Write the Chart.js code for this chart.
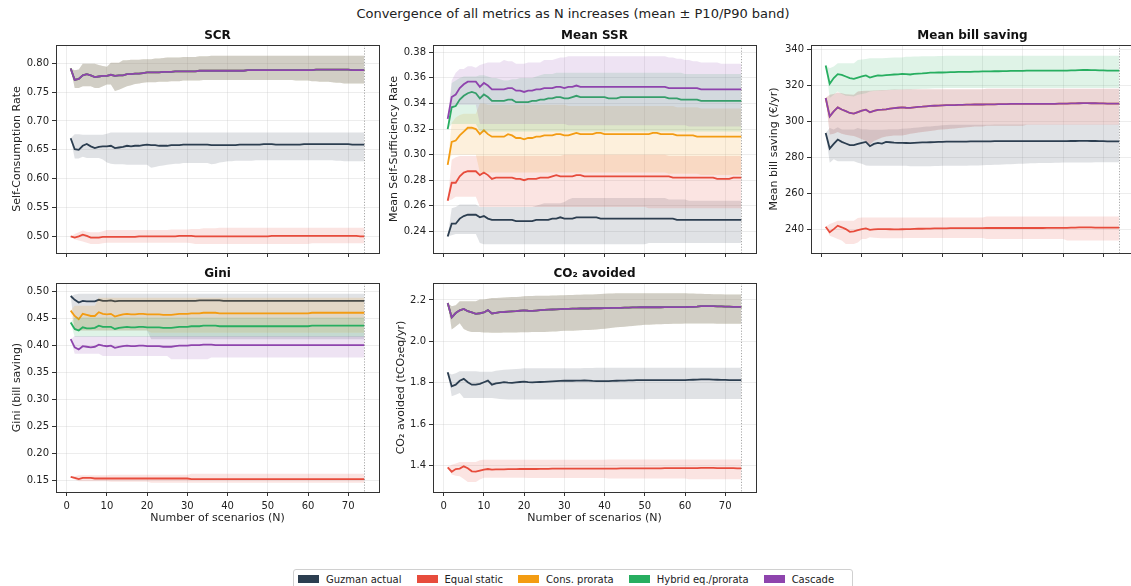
<!DOCTYPE html>
<html><head><meta charset="utf-8">
<script src="https://cdn.jsdelivr.net/npm/chart.js@4.4.1/dist/chart.umd.min.js"></script>
<style>
html,body{margin:0;padding:0;width:1131px;height:586px;overflow:hidden;background:#fff;font-family:"DejaVu Sans",sans-serif;color:#222;}
canvas{position:absolute;}
#suptitle{position:absolute;left:0;width:1146px;top:6px;text-align:center;font-size:13px;color:#222;}
#legend{position:absolute;left:293px;top:569px;width:560px;height:20px;border:1px solid #d0d0d0;border-radius:3px;box-sizing:border-box;display:flex;align-items:center;padding-left:4px;font-size:10px;color:#222;}
#legend .it{display:flex;align-items:center;margin-right:15px;}
#legend .sw{width:21px;height:8px;margin-right:7px;}
</style></head><body>
<div id="suptitle">Convergence of all metrics as N increases (mean ± P10/P90 band)</div>
<canvas id="c0"></canvas><canvas id="c1"></canvas><canvas id="c2"></canvas><canvas id="c3"></canvas><canvas id="c4"></canvas>
<div id="legend"></div>
<script>
// ---------- categories ----------
const N = [1,2,3,4,5,6,7,8,9,10,11,12,13,14,15,16,17,18,19,20,21,22,23,24,25,26,27,28,29,30,31,32,33,34,35,36,37,38,39,40,41,42,43,44,45,46,47,48,49,50,51,52,53,54,55,56,57,58,59,60,61,62,63,64,65,66,67,68,69,70,71,72,73,74];
const SERIES = ['Guzman actual','Equal static','Cons. prorata','Hybrid eq./prorata','Cascade'];

// ---------- tick labels ----------
const xTicks = [0,10,20,30,40,50,60,70];
const scrTicks = [0.50,0.55,0.60,0.65,0.70,0.75,0.80];
const ssrTicks = [0.24,0.26,0.28,0.30,0.32,0.34,0.36,0.38];
const billTicks = [240,260,280,300,320,340];
const giniTicks = [0.15,0.20,0.25,0.30,0.35,0.40,0.45,0.50];
const co2Ticks = [1.4,1.6,1.8,2.0,2.2];

// ---------- SCR ----------
const scrGuzman = [
0.670,0.651,0.650,0.657,0.660,0.656,0.653,0.655,0.656,0.656,
0.657,0.653,0.654,0.655,0.657,0.656,0.657,0.657,0.658,0.659,
0.658,0.658,0.657,0.657,0.657,0.658,0.658,0.658,0.659,0.659,
0.659,0.659,0.659,0.659,0.659,0.658,0.658,0.658,0.658,0.658,
0.658,0.658,0.659,0.659,0.659,0.659,0.659,0.659,0.660,0.660,
0.660,0.659,0.659,0.659,0.659,0.659,0.659,0.659,0.660,0.660,
0.660,0.660,0.660,0.660,0.660,0.660,0.660,0.660,0.660,0.660,
0.659,0.659,0.659,0.659];
const scrGuzmanLo = [
0.670,0.635,0.635,0.638,0.636,0.636,0.636,0.636,0.633,0.628,
0.626,0.625,0.625,0.625,0.624,0.624,0.624,0.624,0.624,0.624,
0.619,0.620,0.622,0.623,0.624,0.625,0.626,0.626,0.627,0.627,
0.627,0.627,0.627,0.627,0.627,0.625,0.626,0.628,0.629,0.630,
0.630,0.631,0.631,0.631,0.631,0.631,0.632,0.632,0.632,0.632,
0.632,0.632,0.632,0.632,0.632,0.632,0.632,0.632,0.632,0.632,
0.632,0.632,0.632,0.632,0.632,0.632,0.631,0.631,0.630,0.630,
0.630,0.630,0.630,0.630];
const scrGuzmanHi = [
0.670,0.677,0.677,0.676,0.676,0.676,0.676,0.676,0.676,0.678,
0.680,0.680,0.680,0.680,0.680,0.680,0.680,0.680,0.680,0.680,
0.680,0.680,0.680,0.680,0.680,0.680,0.680,0.680,0.680,0.680,
0.680,0.680,0.680,0.680,0.680,0.680,0.680,0.680,0.680,0.680,
0.680,0.680,0.680,0.680,0.680,0.680,0.680,0.680,0.680,0.680,
0.680,0.680,0.680,0.680,0.680,0.680,0.680,0.680,0.680,0.680,
0.680,0.680,0.680,0.680,0.680,0.680,0.680,0.680,0.680,0.680,
0.680,0.680,0.680,0.680];
const scrEqual = [
0.500,0.498,0.500,0.503,0.501,0.498,0.498,0.498,0.499,0.499,
0.499,0.499,0.499,0.499,0.499,0.499,0.499,0.500,0.500,0.500,
0.500,0.500,0.500,0.500,0.500,0.500,0.500,0.501,0.501,0.501,
0.501,0.500,0.500,0.500,0.500,0.500,0.500,0.500,0.500,0.500,
0.500,0.500,0.500,0.500,0.500,0.500,0.500,0.500,0.500,0.500,
0.501,0.501,0.501,0.501,0.501,0.501,0.501,0.501,0.501,0.501,
0.501,0.501,0.501,0.501,0.501,0.501,0.501,0.501,0.501,0.501,
0.501,0.501,0.500,0.500];
const scrEqualLo = [
0.500,0.495,0.493,0.491,0.489,0.487,0.487,0.487,0.488,0.489,
0.489,0.489,0.489,0.489,0.489,0.489,0.489,0.489,0.489,0.489,
0.489,0.489,0.489,0.489,0.489,0.489,0.489,0.489,0.489,0.489,
0.488,0.487,0.487,0.487,0.487,0.487,0.487,0.487,0.487,0.487,
0.487,0.487,0.487,0.487,0.487,0.487,0.487,0.487,0.487,0.487,
0.487,0.487,0.487,0.487,0.487,0.487,0.487,0.487,0.487,0.487,
0.488,0.488,0.488,0.488,0.488,0.488,0.488,0.488,0.488,0.488,
0.488,0.488,0.488,0.488];
const scrEqualHi = [
0.500,0.504,0.507,0.510,0.508,0.507,0.507,0.507,0.509,0.511,
0.511,0.511,0.511,0.511,0.511,0.511,0.511,0.511,0.511,0.511,
0.511,0.511,0.511,0.511,0.511,0.512,0.512,0.512,0.512,0.512,
0.513,0.513,0.513,0.514,0.514,0.514,0.514,0.515,0.515,0.515,
0.515,0.515,0.515,0.515,0.515,0.515,0.515,0.515,0.515,0.515,
0.515,0.515,0.515,0.515,0.515,0.515,0.515,0.515,0.515,0.515,
0.515,0.515,0.515,0.515,0.515,0.515,0.515,0.515,0.515,0.515,
0.515,0.515,0.515,0.515];
const scrCascade = [
0.791,0.771,0.773,0.779,0.781,0.779,0.776,0.777,0.778,0.778,
0.780,0.778,0.779,0.779,0.781,0.781,0.782,0.782,0.783,0.784,
0.784,0.784,0.784,0.785,0.785,0.785,0.786,0.786,0.786,0.786,
0.786,0.786,0.787,0.787,0.787,0.787,0.787,0.787,0.787,0.787,
0.787,0.787,0.787,0.787,0.788,0.788,0.788,0.788,0.788,0.788,
0.788,0.788,0.788,0.788,0.788,0.788,0.788,0.788,0.788,0.788,
0.788,0.789,0.789,0.789,0.789,0.789,0.789,0.789,0.789,0.789,
0.788,0.788,0.788,0.788];
const scrCascadeLo = [
0.791,0.757,0.757,0.760,0.760,0.760,0.757,0.757,0.760,0.763,
0.763,0.752,0.754,0.757,0.760,0.762,0.764,0.765,0.766,0.767,
0.767,0.767,0.768,0.768,0.768,0.769,0.769,0.769,0.770,0.770,
0.770,0.770,0.770,0.771,0.771,0.771,0.771,0.771,0.771,0.771,
0.771,0.771,0.771,0.771,0.771,0.771,0.771,0.771,0.771,0.771,
0.771,0.771,0.771,0.771,0.771,0.771,0.770,0.770,0.770,0.770,
0.769,0.769,0.768,0.768,0.768,0.767,0.766,0.766,0.765,0.765,
0.765,0.765,0.765,0.765];
const scrCascadeHi = [
0.791,0.788,0.789,0.799,0.799,0.799,0.799,0.797,0.795,0.794,
0.801,0.801,0.801,0.805,0.805,0.806,0.806,0.806,0.807,0.807,
0.807,0.808,0.808,0.809,0.810,0.810,0.810,0.810,0.811,0.811,
0.811,0.811,0.812,0.812,0.812,0.813,0.813,0.813,0.813,0.813,
0.813,0.813,0.813,0.813,0.813,0.813,0.813,0.813,0.813,0.813,
0.813,0.813,0.813,0.813,0.813,0.813,0.813,0.813,0.813,0.813,
0.813,0.813,0.813,0.813,0.813,0.813,0.813,0.813,0.813,0.813,
0.813,0.813,0.813,0.813];
// Cons. prorata and Hybrid coincide with Cascade for SCR
const scrCons = scrCascade, scrConsLo = scrCascadeLo, scrConsHi = scrCascadeHi;
const scrHybrid = scrCascade, scrHybridLo = scrCascadeLo, scrHybridHi = scrCascadeHi;

// ---------- Mean SSR ----------
const ssrGuzman = [
0.236,0.246,0.246,0.250,0.252,0.253,0.253,0.253,0.251,0.252,
0.250,0.249,0.249,0.249,0.249,0.249,0.249,0.248,0.248,0.248,
0.248,0.248,0.249,0.249,0.249,0.249,0.250,0.250,0.251,0.250,
0.250,0.250,0.251,0.251,0.251,0.251,0.251,0.251,0.250,0.250,
0.250,0.250,0.250,0.250,0.250,0.250,0.250,0.250,0.250,0.250,
0.250,0.250,0.250,0.250,0.250,0.250,0.250,0.249,0.249,0.249,
0.249,0.249,0.249,0.249,0.249,0.249,0.249,0.249,0.249,0.249,
0.249,0.249,0.249,0.249];
const ssrGuzmanLo = [
0.236,0.237,0.238,0.238,0.238,0.238,0.238,0.238,0.231,0.230,
0.230,0.230,0.230,0.230,0.230,0.230,0.230,0.230,0.230,0.230,
0.230,0.230,0.230,0.230,0.230,0.230,0.230,0.230,0.230,0.230,
0.230,0.230,0.230,0.230,0.230,0.230,0.230,0.230,0.230,0.230,
0.230,0.230,0.230,0.230,0.230,0.230,0.230,0.230,0.230,0.230,
0.231,0.231,0.231,0.231,0.231,0.231,0.231,0.231,0.231,0.231,
0.231,0.231,0.231,0.231,0.231,0.231,0.231,0.231,0.231,0.231,
0.231,0.231,0.231,0.231];
const ssrGuzmanHi = [
0.236,0.258,0.259,0.261,0.261,0.261,0.261,0.261,0.259,0.259,
0.259,0.259,0.259,0.259,0.259,0.259,0.259,0.259,0.259,0.259,
0.259,0.259,0.260,0.261,0.262,0.262,0.262,0.262,0.262,0.263,
0.265,0.266,0.266,0.266,0.266,0.266,0.266,0.266,0.266,0.266,
0.266,0.266,0.266,0.266,0.266,0.266,0.266,0.266,0.266,0.266,
0.266,0.266,0.266,0.266,0.266,0.265,0.265,0.265,0.265,0.265,
0.264,0.264,0.264,0.264,0.264,0.264,0.264,0.264,0.264,0.264,
0.264,0.264,0.264,0.264];
const ssrEqual = [
0.264,0.278,0.278,0.283,0.286,0.287,0.287,0.287,0.284,0.286,
0.284,0.281,0.282,0.282,0.282,0.282,0.282,0.281,0.281,0.280,
0.281,0.281,0.281,0.282,0.282,0.282,0.283,0.284,0.283,0.283,
0.283,0.283,0.284,0.284,0.283,0.283,0.283,0.283,0.283,0.283,
0.283,0.283,0.283,0.283,0.283,0.283,0.283,0.283,0.283,0.283,
0.283,0.283,0.283,0.283,0.283,0.283,0.282,0.282,0.282,0.282,
0.282,0.282,0.282,0.282,0.282,0.282,0.282,0.281,0.281,0.281,
0.281,0.282,0.282,0.282];
const ssrEqualLo = [
0.264,0.265,0.267,0.267,0.267,0.267,0.267,0.267,0.259,0.259,
0.259,0.259,0.259,0.259,0.259,0.259,0.259,0.259,0.259,0.259,
0.259,0.259,0.259,0.259,0.259,0.259,0.259,0.259,0.259,0.259,
0.259,0.259,0.259,0.259,0.259,0.259,0.259,0.259,0.259,0.259,
0.259,0.259,0.259,0.259,0.259,0.259,0.259,0.259,0.259,0.259,
0.258,0.258,0.258,0.258,0.258,0.258,0.258,0.258,0.258,0.258,
0.258,0.258,0.258,0.258,0.258,0.258,0.258,0.258,0.258,0.258,
0.258,0.258,0.258,0.258];
const ssrEqualHi = [
0.264,0.296,0.298,0.299,0.299,0.299,0.299,0.299,0.299,0.299,
0.299,0.299,0.299,0.299,0.299,0.299,0.299,0.299,0.299,0.299,
0.299,0.299,0.299,0.299,0.299,0.299,0.299,0.299,0.299,0.300,
0.300,0.300,0.300,0.300,0.300,0.300,0.300,0.300,0.300,0.300,
0.300,0.300,0.300,0.300,0.300,0.300,0.300,0.300,0.300,0.300,
0.300,0.300,0.300,0.300,0.300,0.299,0.299,0.299,0.299,0.299,
0.299,0.299,0.299,0.299,0.299,0.299,0.299,0.299,0.299,0.299,
0.299,0.299,0.299,0.299];
const ssrCons = [
0.292,0.310,0.311,0.315,0.318,0.321,0.321,0.320,0.316,0.319,
0.316,0.314,0.314,0.314,0.314,0.316,0.315,0.313,0.313,0.312,
0.313,0.313,0.314,0.314,0.315,0.315,0.315,0.316,0.316,0.315,
0.315,0.316,0.317,0.316,0.316,0.316,0.316,0.317,0.317,0.316,
0.316,0.316,0.316,0.316,0.316,0.316,0.316,0.316,0.316,0.316,
0.316,0.317,0.317,0.316,0.316,0.316,0.316,0.315,0.315,0.315,
0.315,0.315,0.314,0.314,0.314,0.314,0.314,0.314,0.314,0.314,
0.314,0.314,0.314,0.314];
const ssrConsLo = [
0.292,0.300,0.300,0.300,0.300,0.300,0.300,0.300,0.286,0.286,
0.286,0.286,0.286,0.286,0.286,0.286,0.286,0.286,0.286,0.286,
0.286,0.286,0.286,0.286,0.286,0.286,0.286,0.286,0.286,0.286,
0.286,0.286,0.286,0.286,0.286,0.286,0.286,0.286,0.286,0.286,
0.286,0.286,0.286,0.286,0.286,0.286,0.286,0.286,0.286,0.286,
0.286,0.286,0.286,0.286,0.286,0.285,0.285,0.285,0.285,0.285,
0.285,0.285,0.285,0.284,0.284,0.284,0.284,0.284,0.284,0.284,
0.284,0.284,0.284,0.284];
const ssrConsHi = [
0.292,0.325,0.329,0.331,0.332,0.332,0.332,0.332,0.340,0.340,
0.339,0.339,0.339,0.339,0.339,0.339,0.339,0.339,0.339,0.339,
0.339,0.339,0.339,0.339,0.339,0.339,0.339,0.339,0.339,0.339,
0.338,0.338,0.338,0.338,0.338,0.338,0.338,0.338,0.338,0.338,
0.338,0.338,0.338,0.338,0.338,0.338,0.338,0.338,0.338,0.338,
0.338,0.338,0.338,0.338,0.338,0.338,0.338,0.337,0.337,0.337,
0.337,0.337,0.337,0.336,0.336,0.336,0.336,0.336,0.336,0.336,
0.336,0.336,0.336,0.336];
const ssrHybrid = [
0.320,0.337,0.338,0.343,0.346,0.348,0.349,0.348,0.344,0.347,
0.345,0.342,0.342,0.342,0.342,0.343,0.343,0.341,0.341,0.341,
0.341,0.342,0.342,0.343,0.343,0.344,0.344,0.345,0.345,0.344,
0.344,0.345,0.346,0.345,0.345,0.345,0.345,0.345,0.345,0.345,
0.344,0.344,0.344,0.345,0.345,0.345,0.345,0.345,0.345,0.345,
0.345,0.345,0.345,0.345,0.345,0.344,0.344,0.344,0.343,0.343,
0.343,0.343,0.343,0.342,0.342,0.342,0.342,0.342,0.342,0.342,
0.342,0.342,0.342,0.342];
const ssrHybridLo = [
0.320,0.324,0.324,0.324,0.324,0.324,0.324,0.324,0.318,0.318,
0.318,0.318,0.318,0.318,0.318,0.318,0.318,0.318,0.318,0.318,
0.318,0.318,0.318,0.318,0.318,0.318,0.318,0.318,0.318,0.318,
0.318,0.318,0.318,0.318,0.318,0.318,0.318,0.318,0.318,0.318,
0.318,0.318,0.318,0.318,0.318,0.318,0.318,0.318,0.318,0.318,
0.318,0.318,0.318,0.318,0.318,0.318,0.318,0.318,0.318,0.318,
0.318,0.318,0.318,0.318,0.318,0.318,0.318,0.318,0.318,0.318,
0.318,0.318,0.318,0.318];
const ssrHybridHi = [
0.320,0.356,0.358,0.360,0.361,0.361,0.361,0.361,0.362,0.362,
0.361,0.360,0.360,0.359,0.358,0.358,0.359,0.359,0.360,0.360,
0.360,0.360,0.361,0.362,0.363,0.363,0.363,0.364,0.364,0.364,
0.364,0.364,0.364,0.364,0.364,0.364,0.364,0.364,0.364,0.364,
0.364,0.364,0.364,0.364,0.364,0.364,0.364,0.364,0.364,0.364,
0.364,0.364,0.364,0.364,0.364,0.364,0.364,0.364,0.364,0.363,
0.363,0.363,0.363,0.363,0.363,0.363,0.363,0.363,0.363,0.363,
0.363,0.363,0.363,0.363];
const ssrCascade = [
0.328,0.345,0.347,0.352,0.355,0.357,0.357,0.357,0.353,0.356,
0.354,0.351,0.351,0.351,0.351,0.352,0.352,0.350,0.350,0.349,
0.350,0.350,0.351,0.351,0.352,0.352,0.352,0.353,0.353,0.352,
0.353,0.353,0.354,0.353,0.353,0.353,0.353,0.353,0.353,0.353,
0.353,0.353,0.353,0.353,0.353,0.353,0.353,0.353,0.353,0.353,
0.353,0.353,0.353,0.353,0.353,0.352,0.352,0.352,0.352,0.352,
0.352,0.352,0.352,0.351,0.351,0.351,0.351,0.351,0.351,0.351,
0.351,0.351,0.351,0.351];
const ssrCascadeLo = [
0.328,0.336,0.339,0.339,0.339,0.339,0.339,0.339,0.324,0.324,
0.324,0.324,0.324,0.324,0.324,0.324,0.324,0.324,0.324,0.324,
0.324,0.324,0.324,0.324,0.324,0.324,0.324,0.324,0.324,0.324,
0.323,0.323,0.323,0.323,0.323,0.323,0.323,0.323,0.323,0.323,
0.323,0.323,0.323,0.323,0.323,0.323,0.323,0.323,0.323,0.323,
0.323,0.323,0.323,0.323,0.323,0.323,0.323,0.323,0.323,0.323,
0.322,0.322,0.322,0.322,0.322,0.322,0.322,0.322,0.322,0.322,
0.322,0.322,0.322,0.322];
const ssrCascadeHi = [
0.328,0.358,0.364,0.367,0.367,0.369,0.369,0.368,0.370,0.371,
0.372,0.372,0.372,0.372,0.374,0.373,0.373,0.371,0.371,0.371,
0.372,0.372,0.372,0.372,0.374,0.374,0.374,0.375,0.376,0.376,
0.377,0.377,0.377,0.377,0.377,0.377,0.377,0.377,0.377,0.377,
0.377,0.377,0.377,0.377,0.377,0.377,0.377,0.377,0.377,0.377,
0.377,0.377,0.377,0.377,0.377,0.376,0.376,0.375,0.375,0.374,
0.374,0.373,0.373,0.372,0.372,0.372,0.372,0.372,0.371,0.371,
0.371,0.371,0.371,0.371];

// ---------- Mean bill saving ----------
const billGuzman = [
293.5,284.8,287.4,289.8,288.5,287.6,286.7,286.7,287.4,288.0,
288.5,286.1,287.4,288.0,287.6,288.5,288.3,288.1,288.0,288.0,
287.9,287.8,288.0,288.1,288.2,288.2,288.3,288.4,288.5,288.5,
288.6,288.6,288.6,288.7,288.7,288.7,288.8,288.8,288.8,288.8,
288.8,288.8,288.9,288.9,288.9,288.9,288.9,288.9,288.9,288.9,
288.9,288.9,288.9,288.9,288.9,288.9,288.9,288.9,288.9,288.9,
288.9,289.0,289.0,289.1,289.1,289.1,289.0,289.0,288.9,288.9,
288.8,288.8,288.8,288.8];
const billGuzmanLo = [
293.5,276.9,278.8,277.8,277.8,277.8,277.8,277.8,276.9,276.4,
275.4,275.3,275.3,275.2,275.2,275.2,275.2,275.2,275.2,275.2,
275.2,275.0,275.0,275.0,275.0,275.0,275.0,275.1,275.1,275.2,
275.2,275.2,275.3,275.3,275.3,275.3,275.4,275.4,275.4,275.5,
275.6,275.7,275.8,275.8,275.9,276.0,276.1,276.2,276.3,276.4,
276.5,276.6,276.6,276.7,276.7,276.8,276.8,276.9,276.9,277.0,
277.0,277.0,277.1,277.1,277.1,277.1,277.1,277.2,277.2,277.2,
277.2,277.2,277.2,277.2];
const billGuzmanHi = [
293.5,296.3,295.4,296.7,295.4,295.4,295.4,295.4,296.3,295.5,
295.5,295.3,295.3,295.3,295.3,295.4,295.5,295.6,295.6,295.8,
296.0,296.1,296.4,296.5,296.8,297.0,297.1,297.4,297.5,297.8,
297.9,298.0,298.0,298.0,298.0,298.1,298.1,298.1,298.1,298.1,
298.1,298.1,298.2,298.2,298.2,298.2,298.2,298.2,298.2,298.2,
298.2,298.2,298.2,298.2,298.2,298.2,298.2,298.2,298.2,298.2,
298.2,298.2,298.2,298.2,298.2,298.2,298.2,298.2,298.2,298.2,
298.2,298.2,298.2,298.2];
const billEqual = [
241.3,238.2,240.0,241.9,241.0,240.0,238.5,238.7,239.4,240.0,
240.4,239.6,239.8,240.0,240.0,240.0,239.9,239.8,239.8,239.9,
240.0,240.0,240.1,240.2,240.2,240.3,240.3,240.4,240.4,240.4,
240.4,240.5,240.5,240.5,240.5,240.5,240.5,240.5,240.5,240.5,
240.6,240.6,240.6,240.6,240.6,240.6,240.6,240.6,240.6,240.6,
240.6,240.6,240.6,240.6,240.6,240.7,240.7,240.7,240.7,240.7,
240.7,240.8,240.8,240.9,240.9,240.9,240.9,240.8,240.8,240.8,
240.8,240.8,240.8,240.8];
const billEqualLo = [
241.3,236.3,235.4,234.5,233.6,231.7,231.7,231.7,232.6,234.5,
234.5,235.4,235.2,235.0,234.9,234.9,234.9,234.9,234.9,234.9,
235.0,235.0,235.0,235.0,235.0,235.0,235.0,235.0,235.0,235.0,
235.0,235.0,235.0,235.0,235.0,235.0,235.0,235.0,235.0,235.0,
234.5,234.5,234.5,234.5,234.5,234.5,234.5,234.5,234.5,234.5,
234.5,234.5,234.5,234.5,234.5,234.5,234.5,234.5,234.5,234.5,
233.6,233.6,233.6,233.6,233.6,233.6,233.6,233.6,233.6,233.6,
233.6,233.6,233.6,233.6];
const billEqualHi = [
241.3,242.8,243.7,244.6,244.6,244.6,244.6,244.6,246.1,246.5,
246.5,246.5,246.5,246.5,246.5,246.5,246.5,246.5,246.5,246.5,
246.5,246.5,246.5,246.5,246.5,246.5,246.5,246.5,246.5,246.5,
246.5,246.5,246.5,246.5,246.5,246.5,246.5,246.5,246.5,246.5,
247.0,247.0,247.0,247.0,247.0,247.0,247.0,247.0,247.0,247.0,
247.0,247.0,247.0,247.0,247.0,247.0,247.0,247.0,247.0,247.0,
247.0,247.0,247.0,247.0,247.0,247.0,247.0,247.0,247.0,247.0,
247.0,247.0,247.0,247.0];
const billHybrid = [
331.0,320.8,324.0,326.2,325.8,324.9,324.0,323.6,324.3,324.9,
325.5,324.3,324.9,325.5,325.4,325.6,325.8,326.0,326.1,326.3,
326.2,326.0,326.3,326.5,326.6,326.8,327.0,327.0,327.1,327.1,
327.2,327.3,327.3,327.4,327.5,327.5,327.5,327.6,327.6,327.7,
327.7,327.7,327.8,327.8,327.9,327.9,328.0,328.0,328.0,328.0,
328.1,328.1,328.1,328.1,328.1,328.1,328.1,328.1,328.2,328.2,
328.2,328.3,328.3,328.4,328.5,328.5,328.4,328.4,328.3,328.3,
328.2,328.2,328.2,328.2];
const billHybridLo = [
331.0,312.9,314.7,316.6,315.1,314.2,314.0,313.8,314.7,315.1,
315.6,316.6,316.8,317.0,317.1,317.2,317.3,317.4,317.5,317.5,
317.6,317.7,317.8,317.9,318.0,318.1,318.2,318.3,318.4,318.4,
318.5,318.5,318.5,318.5,318.5,318.5,318.5,318.5,318.5,318.5,
318.5,318.5,318.5,318.5,318.5,318.5,318.5,318.5,318.5,318.5,
318.5,318.5,318.5,318.5,318.5,318.5,318.5,318.5,318.5,318.5,
318.5,318.5,318.5,318.5,318.5,318.5,318.5,318.5,318.5,318.5,
318.5,318.5,318.5,318.5];
const billHybridHi = [
331.0,329.5,330.5,332.3,332.3,332.3,332.3,332.3,334.1,334.3,
334.6,335.0,335.0,335.0,335.0,335.2,335.3,335.4,335.5,335.5,
335.9,335.9,336.0,336.0,336.1,336.1,336.2,336.2,336.3,336.3,
336.4,336.4,336.4,336.4,336.4,336.4,336.4,336.4,336.4,336.4,
336.4,336.4,336.4,336.4,336.4,336.4,336.4,336.4,336.4,336.4,
336.4,336.4,336.4,336.4,336.4,336.4,336.4,336.4,336.4,336.4,
336.4,336.4,336.4,336.4,336.4,336.4,336.4,336.4,336.4,336.4,
336.4,336.4,336.4,336.4];
const billCascade = [
312.9,302.7,305.5,307.7,306.5,305.6,304.6,304.2,305.1,305.9,
306.4,305.0,305.8,306.3,306.4,306.6,307.0,307.3,307.5,307.7,
307.5,307.4,307.7,308.0,308.1,308.3,308.5,308.6,308.7,308.8,
308.9,309.0,309.0,309.1,309.1,309.2,309.2,309.3,309.3,309.3,
309.4,309.4,309.4,309.5,309.5,309.5,309.6,309.6,309.6,309.6,
309.7,309.7,309.7,309.7,309.7,309.7,309.7,309.7,309.8,309.8,
309.8,309.9,309.9,310.0,310.1,310.1,310.0,310.0,309.9,309.9,
309.8,309.8,309.8,309.8];
const billCascadeLo = [
312.9,292.6,293.0,294.0,293.0,292.5,292.0,291.8,291.0,290.0,
289.0,287.0,289.0,290.0,291.0,291.5,291.8,292.0,292.0,292.0,
292.5,293.0,293.3,293.7,294.0,294.3,294.6,294.9,295.2,295.4,
295.6,295.8,296.0,296.2,296.4,296.6,296.8,297.0,297.0,297.0,
297.5,297.5,297.5,297.5,297.5,297.5,297.5,297.5,297.5,297.5,
298.0,298.0,298.0,298.0,298.0,298.0,298.0,298.0,298.0,298.0,
298.0,298.0,298.0,298.0,298.0,298.0,298.0,298.0,298.0,298.0,
298.0,298.0,298.0,298.0];
const billCascadeHi = [
312.9,314.7,315.2,316.0,315.5,315.0,314.8,314.7,316.6,316.8,
317.0,317.0,317.1,317.2,317.3,317.4,317.5,317.6,317.6,317.7,
317.8,317.8,317.8,317.8,317.8,317.8,317.8,317.8,317.8,317.8,
317.8,317.8,317.8,317.8,317.8,317.8,317.8,317.8,317.8,317.8,
318.0,318.0,318.0,318.0,318.0,318.0,318.0,318.0,318.0,318.0,
318.0,318.0,318.0,318.0,318.0,318.0,318.0,318.0,318.0,318.0,
318.0,318.0,318.0,318.0,318.0,318.0,318.0,318.0,318.0,318.0,
318.0,318.0,318.0,318.0];
// Cons. prorata coincides with Cascade for bill saving
const billCons = billCascade, billConsLo = billCascadeLo, billConsHi = billCascadeHi;

// ---------- Gini ----------
const giniGuzman = [
0.492,0.485,0.480,0.483,0.482,0.482,0.482,0.485,0.483,0.483,
0.484,0.482,0.483,0.483,0.483,0.483,0.483,0.483,0.483,0.483,
0.483,0.483,0.483,0.483,0.483,0.483,0.483,0.483,0.483,0.483,
0.483,0.483,0.484,0.484,0.484,0.484,0.484,0.484,0.483,0.483,
0.483,0.483,0.483,0.483,0.483,0.483,0.483,0.483,0.483,0.483,
0.483,0.483,0.483,0.483,0.483,0.483,0.483,0.483,0.483,0.483,
0.483,0.483,0.483,0.483,0.483,0.483,0.483,0.483,0.483,0.483,
0.483,0.483,0.483,0.483];
const giniGuzmanLo = [
0.492,0.428,0.428,0.428,0.428,0.428,0.428,0.428,0.428,0.428,
0.428,0.428,0.428,0.428,0.428,0.428,0.428,0.428,0.428,0.428,
0.412,0.412,0.412,0.412,0.412,0.412,0.412,0.412,0.412,0.412,
0.412,0.412,0.412,0.412,0.412,0.412,0.412,0.412,0.412,0.412,
0.412,0.412,0.412,0.412,0.412,0.412,0.412,0.412,0.412,0.412,
0.412,0.412,0.412,0.412,0.412,0.412,0.412,0.412,0.412,0.412,
0.412,0.412,0.412,0.412,0.412,0.412,0.412,0.412,0.412,0.412,
0.412,0.412,0.412,0.412];
const giniGuzmanHi = [
0.492,0.495,0.496,0.496,0.496,0.496,0.496,0.496,0.496,0.496,
0.496,0.496,0.496,0.496,0.496,0.496,0.496,0.496,0.496,0.496,
0.496,0.496,0.496,0.496,0.496,0.496,0.496,0.496,0.496,0.496,
0.496,0.496,0.496,0.496,0.496,0.496,0.496,0.496,0.496,0.496,
0.496,0.496,0.496,0.496,0.496,0.496,0.496,0.496,0.496,0.496,
0.496,0.496,0.496,0.496,0.496,0.496,0.496,0.496,0.496,0.496,
0.496,0.496,0.496,0.496,0.496,0.496,0.496,0.496,0.496,0.496,
0.496,0.496,0.496,0.496];
const giniEqual = [
0.157,0.155,0.153,0.155,0.155,0.155,0.154,0.154,0.154,0.154,
0.154,0.154,0.154,0.154,0.154,0.154,0.154,0.154,0.154,0.154,
0.154,0.154,0.154,0.154,0.154,0.154,0.154,0.154,0.154,0.154,
0.153,0.153,0.153,0.153,0.153,0.153,0.153,0.153,0.153,0.153,
0.153,0.153,0.153,0.153,0.153,0.153,0.153,0.153,0.153,0.153,
0.153,0.153,0.153,0.153,0.153,0.153,0.153,0.153,0.153,0.153,
0.153,0.153,0.153,0.153,0.153,0.153,0.153,0.153,0.153,0.153,
0.153,0.153,0.153,0.153];
const giniEqualLo = [
0.157,0.152,0.149,0.149,0.149,0.149,0.149,0.149,0.149,0.149,
0.148,0.148,0.148,0.148,0.148,0.148,0.148,0.148,0.148,0.148,
0.146,0.146,0.146,0.146,0.146,0.146,0.146,0.146,0.146,0.146,
0.146,0.146,0.146,0.146,0.146,0.146,0.146,0.146,0.146,0.146,
0.146,0.146,0.146,0.146,0.146,0.146,0.146,0.146,0.146,0.146,
0.146,0.146,0.146,0.146,0.146,0.146,0.146,0.146,0.146,0.146,
0.146,0.146,0.146,0.146,0.146,0.146,0.146,0.146,0.146,0.146,
0.146,0.146,0.146,0.146];
const giniEqualHi = [
0.157,0.158,0.160,0.160,0.160,0.160,0.160,0.160,0.160,0.160,
0.161,0.161,0.161,0.161,0.161,0.161,0.161,0.161,0.161,0.161,
0.161,0.161,0.161,0.161,0.161,0.161,0.161,0.161,0.161,0.161,
0.163,0.163,0.163,0.163,0.163,0.163,0.163,0.163,0.163,0.163,
0.163,0.163,0.163,0.163,0.163,0.163,0.163,0.163,0.163,0.163,
0.163,0.163,0.163,0.163,0.163,0.163,0.163,0.163,0.163,0.163,
0.163,0.163,0.163,0.163,0.163,0.163,0.163,0.163,0.163,0.163,
0.163,0.163,0.163,0.163];
const giniCons = [
0.465,0.455,0.449,0.459,0.457,0.455,0.455,0.462,0.459,0.458,
0.459,0.454,0.456,0.458,0.459,0.458,0.458,0.459,0.459,0.458,
0.458,0.458,0.458,0.457,0.457,0.457,0.458,0.459,0.459,0.459,
0.460,0.460,0.460,0.461,0.461,0.461,0.461,0.460,0.460,0.460,
0.460,0.460,0.460,0.460,0.460,0.460,0.460,0.460,0.460,0.460,
0.460,0.460,0.460,0.460,0.460,0.460,0.460,0.460,0.460,0.460,
0.461,0.461,0.461,0.461,0.461,0.461,0.461,0.461,0.461,0.461,
0.461,0.461,0.461,0.461];
const giniConsLo = [
0.465,0.428,0.428,0.428,0.428,0.428,0.428,0.428,0.428,0.428,
0.428,0.428,0.428,0.428,0.428,0.428,0.428,0.428,0.428,0.428,
0.424,0.424,0.424,0.424,0.424,0.424,0.424,0.424,0.424,0.424,
0.424,0.424,0.424,0.424,0.424,0.424,0.424,0.424,0.424,0.424,
0.424,0.424,0.424,0.424,0.424,0.424,0.424,0.424,0.424,0.424,
0.424,0.424,0.424,0.424,0.424,0.424,0.424,0.424,0.424,0.424,
0.424,0.424,0.424,0.424,0.424,0.424,0.424,0.424,0.424,0.424,
0.424,0.424,0.424,0.424];
const giniConsHi = [
0.465,0.474,0.474,0.474,0.474,0.474,0.474,0.489,0.489,0.489,
0.489,0.489,0.489,0.489,0.489,0.489,0.489,0.489,0.489,0.489,
0.489,0.489,0.489,0.489,0.489,0.489,0.489,0.489,0.489,0.489,
0.489,0.489,0.489,0.489,0.489,0.489,0.489,0.489,0.489,0.489,
0.489,0.489,0.489,0.489,0.489,0.489,0.489,0.489,0.489,0.489,
0.489,0.489,0.489,0.489,0.489,0.489,0.489,0.489,0.489,0.489,
0.489,0.489,0.489,0.489,0.489,0.489,0.489,0.489,0.489,0.489,
0.489,0.489,0.489,0.489];
const giniHybrid = [
0.443,0.431,0.428,0.434,0.432,0.432,0.433,0.437,0.435,0.435,
0.435,0.431,0.433,0.434,0.435,0.434,0.434,0.435,0.435,0.434,
0.434,0.434,0.434,0.433,0.433,0.433,0.434,0.435,0.435,0.435,
0.436,0.436,0.436,0.437,0.437,0.437,0.437,0.436,0.436,0.436,
0.436,0.436,0.436,0.436,0.436,0.436,0.436,0.436,0.436,0.436,
0.436,0.436,0.436,0.436,0.436,0.436,0.436,0.436,0.436,0.436,
0.437,0.437,0.437,0.437,0.437,0.437,0.437,0.437,0.437,0.437,
0.437,0.437,0.437,0.437];
const giniHybridLo = [
0.443,0.416,0.416,0.416,0.416,0.416,0.416,0.416,0.416,0.416,
0.416,0.416,0.416,0.416,0.416,0.416,0.416,0.416,0.416,0.416,
0.416,0.416,0.416,0.416,0.416,0.416,0.416,0.416,0.416,0.416,
0.416,0.416,0.416,0.416,0.416,0.416,0.416,0.416,0.416,0.416,
0.416,0.416,0.416,0.416,0.416,0.416,0.416,0.416,0.416,0.416,
0.416,0.416,0.416,0.416,0.416,0.416,0.416,0.416,0.416,0.416,
0.416,0.416,0.416,0.416,0.416,0.416,0.416,0.416,0.416,0.416,
0.416,0.416,0.416,0.416];
const giniHybridHi = [
0.443,0.452,0.452,0.452,0.452,0.452,0.452,0.452,0.452,0.452,
0.452,0.452,0.452,0.452,0.452,0.452,0.452,0.452,0.452,0.452,
0.452,0.452,0.452,0.452,0.452,0.452,0.452,0.452,0.452,0.452,
0.452,0.452,0.452,0.452,0.452,0.452,0.452,0.452,0.452,0.452,
0.452,0.452,0.452,0.452,0.452,0.452,0.452,0.452,0.452,0.452,
0.452,0.452,0.452,0.452,0.452,0.452,0.452,0.452,0.452,0.452,
0.452,0.452,0.452,0.452,0.452,0.452,0.452,0.452,0.452,0.452,
0.452,0.452,0.452,0.452];
const giniCascade = [
0.412,0.397,0.393,0.399,0.398,0.397,0.398,0.402,0.400,0.399,
0.400,0.396,0.398,0.399,0.400,0.399,0.399,0.400,0.400,0.399,
0.399,0.399,0.399,0.398,0.398,0.398,0.399,0.400,0.400,0.400,
0.401,0.401,0.401,0.402,0.402,0.402,0.401,0.401,0.401,0.401,
0.401,0.401,0.401,0.401,0.401,0.401,0.401,0.401,0.401,0.401,
0.401,0.401,0.401,0.401,0.401,0.401,0.401,0.401,0.401,0.401,
0.401,0.401,0.401,0.401,0.401,0.401,0.401,0.401,0.401,0.401,
0.401,0.401,0.401,0.401];
const giniCascadeLo = [
0.412,0.385,0.385,0.385,0.385,0.385,0.385,0.385,0.381,0.381,
0.381,0.381,0.381,0.381,0.381,0.381,0.381,0.381,0.381,0.381,
0.381,0.381,0.381,0.381,0.381,0.375,0.375,0.375,0.375,0.375,
0.375,0.375,0.375,0.375,0.375,0.378,0.378,0.378,0.378,0.378,
0.378,0.378,0.378,0.378,0.378,0.378,0.378,0.378,0.378,0.378,
0.378,0.378,0.378,0.378,0.378,0.378,0.378,0.378,0.378,0.378,
0.378,0.378,0.378,0.378,0.378,0.378,0.378,0.378,0.378,0.378,
0.378,0.378,0.378,0.378];
const giniCascadeHi = [
0.412,0.418,0.418,0.418,0.418,0.418,0.418,0.418,0.418,0.418,
0.418,0.418,0.418,0.418,0.418,0.418,0.418,0.418,0.418,0.418,
0.418,0.418,0.418,0.418,0.418,0.418,0.418,0.418,0.418,0.418,
0.418,0.418,0.418,0.418,0.418,0.418,0.418,0.418,0.418,0.418,
0.418,0.418,0.418,0.418,0.418,0.418,0.418,0.418,0.418,0.418,
0.418,0.418,0.418,0.418,0.418,0.418,0.418,0.418,0.418,0.418,
0.418,0.418,0.418,0.418,0.418,0.418,0.418,0.418,0.418,0.418,
0.418,0.418,0.418,0.418];

// ---------- CO2 avoided ----------
const co2Guzman = [
1.851,1.783,1.791,1.810,1.819,1.803,1.791,1.791,1.795,1.803,
1.811,1.791,1.797,1.800,1.803,1.801,1.800,1.802,1.804,1.806,
1.803,1.802,1.803,1.804,1.805,1.806,1.807,1.808,1.809,1.810,
1.810,1.810,1.811,1.811,1.812,1.811,1.809,1.808,1.808,1.808,
1.808,1.809,1.810,1.811,1.811,1.812,1.812,1.813,1.813,1.813,
1.813,1.813,1.813,1.813,1.813,1.813,1.813,1.813,1.813,1.813,
1.814,1.815,1.816,1.817,1.817,1.817,1.816,1.815,1.814,1.814,
1.813,1.813,1.813,1.813];
const co2GuzmanLo = [
1.851,1.735,1.743,1.751,1.727,1.727,1.727,1.727,1.727,1.727,
1.727,1.727,1.724,1.722,1.721,1.720,1.720,1.719,1.719,1.719,
1.719,1.719,1.719,1.719,1.719,1.719,1.719,1.719,1.719,1.719,
1.721,1.721,1.721,1.721,1.721,1.721,1.721,1.721,1.721,1.721,
1.721,1.721,1.721,1.721,1.721,1.721,1.721,1.721,1.721,1.721,
1.722,1.722,1.722,1.722,1.722,1.722,1.722,1.722,1.722,1.722,
1.722,1.722,1.722,1.722,1.722,1.722,1.722,1.722,1.722,1.722,
1.722,1.722,1.722,1.722];
const co2GuzmanHi = [
1.851,1.840,1.846,1.856,1.856,1.856,1.856,1.856,1.853,1.853,
1.853,1.853,1.858,1.861,1.863,1.865,1.866,1.867,1.868,1.870,
1.870,1.870,1.870,1.870,1.870,1.870,1.870,1.870,1.870,1.870,
1.870,1.870,1.871,1.871,1.872,1.872,1.872,1.873,1.873,1.873,
1.873,1.873,1.873,1.873,1.873,1.873,1.873,1.873,1.873,1.873,
1.873,1.873,1.873,1.873,1.873,1.873,1.873,1.873,1.873,1.873,
1.873,1.873,1.873,1.873,1.873,1.873,1.873,1.873,1.873,1.873,
1.873,1.873,1.873,1.873];
const co2Equal = [
1.392,1.371,1.384,1.386,1.397,1.388,1.373,1.371,1.376,1.381,
1.384,1.381,1.382,1.382,1.382,1.383,1.383,1.383,1.384,1.384,
1.384,1.384,1.384,1.385,1.385,1.385,1.386,1.386,1.386,1.386,
1.386,1.386,1.386,1.386,1.386,1.386,1.386,1.386,1.386,1.386,
1.386,1.386,1.386,1.387,1.387,1.387,1.387,1.387,1.387,1.387,
1.387,1.387,1.387,1.387,1.388,1.388,1.388,1.388,1.388,1.388,
1.388,1.388,1.388,1.389,1.389,1.389,1.389,1.388,1.388,1.388,
1.388,1.388,1.387,1.387];
const co2EqualLo = [
1.392,1.357,1.352,1.349,1.336,1.321,1.321,1.321,1.333,1.342,
1.342,1.342,1.342,1.342,1.342,1.342,1.342,1.342,1.342,1.342,
1.340,1.340,1.340,1.340,1.340,1.340,1.340,1.340,1.340,1.340,
1.340,1.340,1.340,1.340,1.340,1.340,1.340,1.340,1.340,1.340,
1.338,1.338,1.338,1.338,1.338,1.338,1.338,1.338,1.338,1.338,
1.338,1.338,1.338,1.338,1.338,1.338,1.338,1.338,1.338,1.338,
1.335,1.335,1.335,1.335,1.335,1.335,1.335,1.335,1.335,1.335,
1.335,1.335,1.335,1.335];
const co2EqualHi = [
1.392,1.405,1.411,1.418,1.418,1.418,1.418,1.418,1.426,1.429,
1.429,1.429,1.429,1.429,1.429,1.429,1.429,1.429,1.429,1.429,
1.429,1.429,1.429,1.429,1.429,1.429,1.429,1.429,1.429,1.429,
1.429,1.429,1.429,1.429,1.429,1.429,1.429,1.429,1.429,1.429,
1.430,1.430,1.430,1.430,1.430,1.430,1.430,1.430,1.430,1.430,
1.430,1.430,1.430,1.430,1.430,1.430,1.430,1.430,1.430,1.430,
1.430,1.430,1.430,1.430,1.430,1.430,1.430,1.430,1.430,1.430,
1.430,1.430,1.430,1.430];
const co2Cascade = [
2.186,2.116,2.137,2.150,2.157,2.146,2.140,2.133,2.136,2.140,
2.151,2.135,2.138,2.141,2.142,2.144,2.145,2.146,2.148,2.150,
2.148,2.147,2.149,2.151,2.152,2.153,2.154,2.155,2.156,2.157,
2.157,2.158,2.158,2.159,2.159,2.159,2.160,2.160,2.160,2.161,
2.161,2.162,2.162,2.162,2.163,2.163,2.164,2.164,2.165,2.165,
2.165,2.165,2.165,2.165,2.166,2.166,2.166,2.166,2.166,2.166,
2.167,2.167,2.168,2.170,2.170,2.170,2.170,2.169,2.169,2.168,
2.168,2.167,2.167,2.167];
const co2CascadeLo = [
2.186,2.057,2.072,2.088,2.060,2.050,2.045,2.045,2.045,2.043,
2.043,2.042,2.042,2.042,2.043,2.043,2.043,2.043,2.044,2.044,
2.044,2.045,2.045,2.046,2.046,2.047,2.048,2.048,2.050,2.051,
2.052,2.052,2.053,2.054,2.055,2.055,2.056,2.058,2.060,2.061,
2.063,2.066,2.068,2.069,2.071,2.073,2.075,2.077,2.078,2.080,
2.081,2.082,2.083,2.083,2.084,2.084,2.085,2.085,2.085,2.086,
2.086,2.086,2.086,2.086,2.086,2.086,2.086,2.085,2.085,2.085,
2.085,2.085,2.085,2.085];
const co2CascadeHi = [
2.186,2.170,2.175,2.194,2.194,2.194,2.194,2.194,2.202,2.202,
2.206,2.210,2.210,2.211,2.212,2.213,2.214,2.215,2.216,2.218,
2.219,2.219,2.220,2.220,2.221,2.221,2.222,2.222,2.223,2.223,
2.224,2.224,2.225,2.225,2.226,2.226,2.227,2.228,2.229,2.230,
2.231,2.231,2.232,2.232,2.232,2.232,2.232,2.232,2.232,2.232,
2.232,2.232,2.232,2.232,2.232,2.232,2.232,2.232,2.232,2.232,
2.231,2.231,2.230,2.230,2.229,2.229,2.228,2.228,2.228,2.227,
2.227,2.227,2.227,2.227];
// Cons. prorata and Hybrid coincide with Cascade for CO2
const co2Cons = co2Cascade, co2ConsLo = co2CascadeLo, co2ConsHi = co2CascadeHi;
const co2Hybrid = co2Cascade, co2HybridLo = co2CascadeLo, co2HybridHi = co2CascadeHi;

// ---------- styling / layout ----------
const COLORS = ['#2c3e50','#e74c3c','#f39c12','#27ae60','#8e44ad'];
const FONT = '"DejaVu Sans", sans-serif';
const PW = 323, PH = 209, LM = 56, TM = 45, RM = 12;

const panels = [
  {id:'c0', title:'SCR', ylabel:'Self-Consumption Rate', left:56, top:45, ymin:0.4712, ymax:0.8316, yticks:scrTicks, dec:2, bottomRow:false, ytPad:10.1,
   data:[[scrGuzman,scrGuzmanLo,scrGuzmanHi],[scrEqual,scrEqualLo,scrEqualHi],[scrCons,scrConsLo,scrConsHi],[scrHybrid,scrHybridLo,scrHybridHi],[scrCascade,scrCascadeLo,scrCascadeHi]]},
  {id:'c1', title:'Mean SSR', ylabel:'Mean Self-Sufficiency Rate', left:433, top:45, ymin:0.2231, ymax:0.3857, yticks:ssrTicks, dec:2, bottomRow:false, ytPad:10.4,
   data:[[ssrGuzman,ssrGuzmanLo,ssrGuzmanHi],[ssrEqual,ssrEqualLo,ssrEqualHi],[ssrCons,ssrConsLo,ssrConsHi],[ssrHybrid,ssrHybridLo,ssrHybridHi],[ssrCascade,ssrCascadeLo,ssrCascadeHi]]},
  {id:'c2', title:'Mean bill saving', ylabel:'Mean bill saving (€/yr)', left:811, top:45, ymin:226.7, ymax:342.4, yticks:billTicks, dec:0, bottomRow:false, ytPad:12.4,
   data:[[billGuzman,billGuzmanLo,billGuzmanHi],[billEqual,billEqualLo,billEqualHi],[billCons,billConsLo,billConsHi],[billHybrid,billHybridLo,billHybridHi],[billCascade,billCascadeLo,billCascadeHi]]},
  {id:'c3', title:'Gini', ylabel:'Gini (bill saving)', left:56, top:283, ymin:0.129, ymax:0.5161, yticks:giniTicks, dec:2, bottomRow:true, ytPad:10.1,
   data:[[giniGuzman,giniGuzmanLo,giniGuzmanHi],[giniEqual,giniEqualLo,giniEqualHi],[giniCons,giniConsLo,giniConsHi],[giniHybrid,giniHybridLo,giniHybridHi],[giniCascade,giniCascadeLo,giniCascadeHi]]},
  {id:'c4', title:'CO₂ avoided', ylabel:'CO₂ avoided (tCO₂eq/yr)', left:433, top:283, ymin:1.273, ymax:2.282, yticks:co2Ticks, dec:1, bottomRow:true, ytPad:17.1,
   data:[[co2Guzman,co2GuzmanLo,co2GuzmanHi],[co2Equal,co2EqualLo,co2EqualHi],[co2Cons,co2ConsLo,co2ConsHi],[co2Hybrid,co2HybridLo,co2HybridHi],[co2Cascade,co2CascadeLo,co2CascadeHi]]}
];

function rgba(hex, a){
  const r=parseInt(hex.slice(1,3),16), g=parseInt(hex.slice(3,5),16), b=parseInt(hex.slice(5,7),16);
  return `rgba(${r},${g},${b},${a})`;
}
const pts = arr => { if (arr.length !== N.length) throw new Error('length mismatch ' + arr.length); return N.map((n,i)=>({x:n, y:arr[i]})); };

const framePlugin = {
  id:'frame',
  afterDatasetsDraw(chart, args, opts){
    const {ctx, chartArea:a, scales} = chart;
    ctx.save();
    // dotted line at the largest N
    const xv = Math.round(scales.x.getPixelForValue(N[N.length-1])) + 0.5;
    ctx.strokeStyle = 'rgba(110,110,110,0.75)'; ctx.lineWidth = 0.8; ctx.setLineDash([1.2,1.6]);
    ctx.beginPath(); ctx.moveTo(xv, a.top); ctx.lineTo(xv, a.bottom); ctx.stroke();
    ctx.setLineDash([]);
    ctx.strokeStyle = '#333'; ctx.lineWidth = 1;
    ctx.strokeRect(Math.round(a.left)+0.5, Math.round(a.top)+0.5, Math.round(a.right-a.left), Math.round(a.bottom-a.top));
    // panel title
    ctx.fillStyle = '#111'; ctx.font = 'bold 12px ' + FONT; ctx.textAlign = 'center'; ctx.textBaseline = 'middle';
    ctx.fillText(opts.text, (a.left+a.right)/2, a.top - 9);
    ctx.restore();
  }
};

panels.forEach(p => {
  const B = p.bottomRow ? 40 : 8;
  const W = LM + PW + RM, H = TM + PH + B;
  const cv = document.getElementById(p.id);
  cv.width = W; cv.height = H;
  cv.style.left = (p.left - LM) + 'px'; cv.style.top = (p.top - TM) + 'px';
  cv.style.width = W + 'px'; cv.style.height = H + 'px';

  const datasets = [];
  let seq = 0;
  p.data.forEach((s, i) => {
    const [mean, lo, hi] = s;
    const c = COLORS[i];
    datasets.push({label:SERIES[i]+' P10', data:pts(lo), borderWidth:0, borderColor:'rgba(0,0,0,0)', pointRadius:0, fill:false, order:100-seq++});
    datasets.push({label:SERIES[i]+' P90', data:pts(hi), borderWidth:0, borderColor:'rgba(0,0,0,0)', pointRadius:0, fill:'-1', backgroundColor:rgba(c,0.15), order:100-seq++});
    datasets.push({label:SERIES[i], data:pts(mean), borderWidth:1.8, borderColor:c, pointRadius:0, fill:false, tension:0, order:100-seq++});
  });

  new Chart(cv, {
    type:'line',
    data:{datasets},
    plugins:[framePlugin],
    options:{
      responsive:false, animation:false, events:[], devicePixelRatio:1,
      layout:{padding:{left:0, top:TM, right:RM, bottom:0}},
      plugins:{legend:{display:false}, tooltip:{enabled:false}, frame:{text:p.title}},
      scales:{
        x:{type:'linear', min:-2.65, max:77.65,
           afterFit(sc){ sc.height = B; },
           afterBuildTicks(sc){ sc.ticks = xTicks.map(v=>({value:v})); },
           border:{display:false},
           grid:{color:'rgba(190,190,190,0.35)', lineWidth:0.8, drawTicks:true, tickLength:4, tickColor:'#333', tickWidth:1},
           ticks:{padding:4, color:'#222', font:{family:FONT, size:10}, maxRotation:0, autoSkip:false,
                  callback:(v)=> p.bottomRow ? String(v) : ''},
           title:{display:p.bottomRow, text:'Number of scenarios (N)', color:'#222', font:{family:FONT, size:11}, padding:{top:0,bottom:7}}
        },
        y:{type:'linear', min:p.ymin, max:p.ymax,
           afterFit(sc){ sc.width = LM; },
           afterBuildTicks(sc){ sc.ticks = p.yticks.map(v=>({value:v})); },
           border:{display:false},
           grid:{color:'rgba(190,190,190,0.35)', lineWidth:0.8, drawTicks:true, tickLength:4, tickColor:'#333', tickWidth:1},
           ticks:{padding:3, color:'#222', font:{family:FONT, size:10}, autoSkip:false, callback:(v)=> Number(v).toFixed(p.dec)},
           title:{display:true, text:p.ylabel, color:'#222', font:{family:FONT, size:11}, padding:{top:p.ytPad, bottom:0}}
        }
      }
    }
  });
});

// ---------- legend ----------
const lg = document.getElementById('legend');
SERIES.forEach((name, i) => {
  const it = document.createElement('div'); it.className = 'it';
  const sw = document.createElement('span'); sw.className = 'sw'; sw.style.background = COLORS[i];
  const tx = document.createElement('span'); tx.textContent = name;
  it.appendChild(sw); it.appendChild(tx); lg.appendChild(it);
});
</script>
</body></html>
